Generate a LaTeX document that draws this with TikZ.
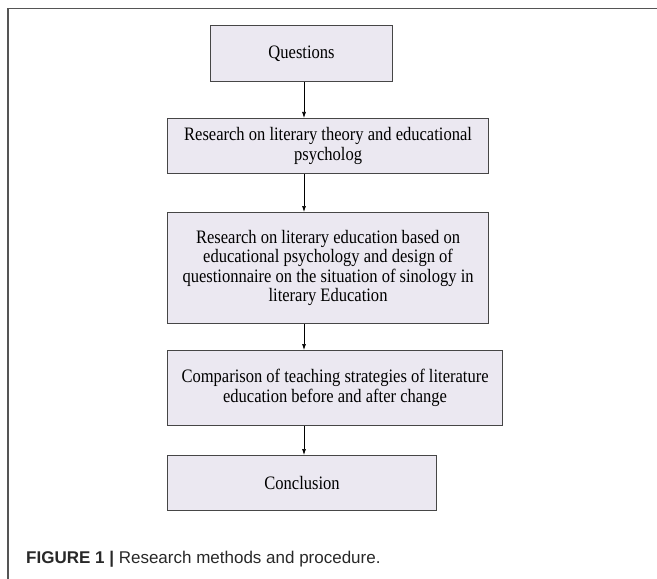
\documentclass[tikz,border=0pt]{standalone}
\usepackage{fontspec}
\setmainfont{Liberation Serif}
\newfontfamily\stagefont[FakeStretch=0.87]{Liberation Serif}
\newfontfamily\capfont{Liberation Sans}
\usetikzlibrary{arrows.meta}
\definecolor{boxfill}{RGB}{235,232,241}
\definecolor{boxline}{RGB}{70,70,70}
\definecolor{framegray}{RGB}{85,85,85}
\definecolor{captext}{RGB}{40,40,40}
\begin{document}
\begin{tikzpicture}[x=1bp,y=-1bp,
    stage/.style ={rectangle, draw=boxline, fill=boxfill, line width=1.1bp, anchor=north west, align=center, inner sep=0pt, font=\stagefont\fontsize{19bp}{19.5bp}\selectfont},
    flow/.style ={line width=0.7bp, -{Latex[length=6bp,width=4bp]}}]
   \useasboundingbox (0,0) rectangle (657,579);
   \draw[framegray, line width=1.6bp] (657,8.5) -- (8,8.5) -- (8,579);
   \node[stage, minimum width=182bp, minimum height=56bp] (Q)  at (210,25)  {Questions};
   \node[stage, minimum width=321bp, minimum height=55bp] (T)  at (167,118)  {Research on literary theory and educational\\psycholog};
   \node[stage, minimum width=321bp, minimum height=111bp] (D)  at (167,212)  {Research on literary education based on\\educational psychology and design of\\questionnaire on the situation of sinology in\\literary Education};
   \node[stage, minimum width=335bp, minimum height=75bp] (C)  at (167,350)  {Comparison of teaching strategies of literature\\education before and after change};
   \node[stage, minimum width=269bp, minimum height=55bp] (E)  at (167,455)  {Conclusion};
   \coordinate (X) at (304,0);
   \draw[flow] (Q.south -| X) to (T.north -| X);
   \draw[flow] (T.south -| X) to (D.north -| X);
   \draw[flow] (D.south -| X) to (C.north -| X);
   \draw[flow] (C.south -| X) to (E.north -| X);
   \node[anchor=base west, inner sep=0pt, text=captext, font=\capfont\fontsize{17bp}{20bp}\selectfont] (F) at (26,563) {\textbf{FIGURE 1 |} Research methods and procedure.};
 \end{tikzpicture}
\end{document}
